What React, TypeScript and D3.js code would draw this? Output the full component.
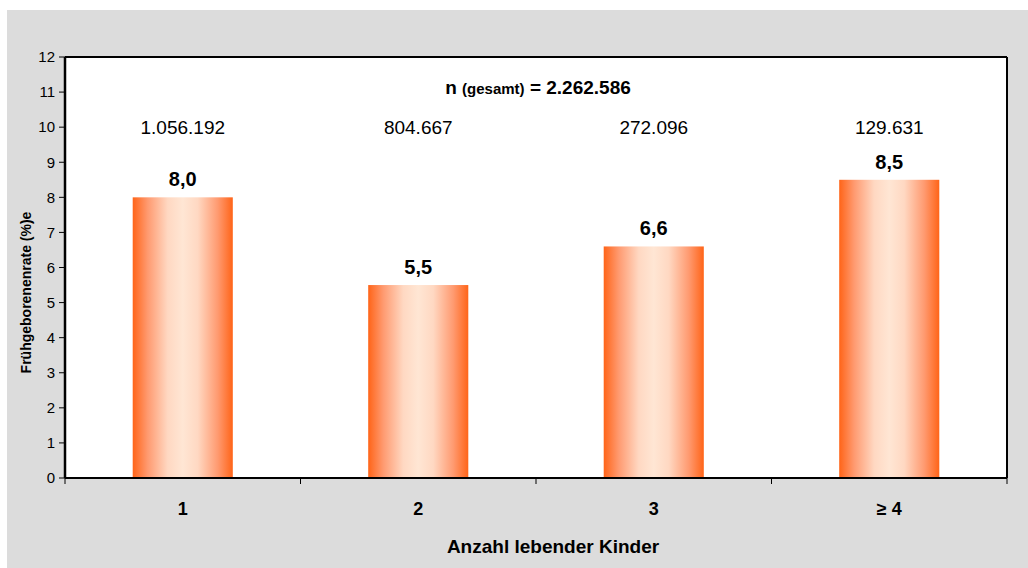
import React from 'react';
import * as d3 from 'd3';

const categories = ['1', '2', '3', '≥ 4'];
const rates = [8.0, 5.5, 6.6, 8.5];
const counts = ['1.056.192', '804.667', '272.096', '129.631'];
const yTicks = [0, 1, 2, 3, 4, 5, 6, 7, 8, 9, 10, 11, 12];

const width = 1028;
const height = 568;
const margin = { top: 57, right: 21, bottom: 90, left: 65 };

const App = () => {
  const innerW = width - margin.left - margin.right;
  const innerH = height - margin.top - margin.bottom;

  const x = d3.scaleBand().domain(categories).range([0, innerW]).paddingInner(0.575).paddingOuter(0.2875);
  const y = d3.scaleLinear().domain([0, 12]).range([innerH, 0]);

  const bandStep = innerW / categories.length;
  const fmt = (v) => v.toFixed(1).replace('.', ',');

  return (
    <svg
      width={width}
      height={height}
      style={{ position: 'absolute', left: 0, top: 0, fontFamily: 'Liberation Sans, Arial, sans-serif' }}
    >
      <defs>
        <linearGradient id="barGrad" x1="0" x2="1" y1="0" y2="0">
          <stop offset="0%" stopColor="#ff6418" />
          <stop offset="15%" stopColor="#ff9a70" />
          <stop offset="35%" stopColor="#ffd8c2" />
          <stop offset="50%" stopColor="#ffe6d4" />
          <stop offset="65%" stopColor="#ffd8c2" />
          <stop offset="85%" stopColor="#ff9a70" />
          <stop offset="100%" stopColor="#ff6418" />
        </linearGradient>
      </defs>
      <rect x={0} y={0} width={width} height={height} fill="#ffffff" />
      <rect x={7} y={10} width={width - 7} height={height - 10} fill="#dcdcdc" />
      <g transform={`translate(${margin.left},${margin.top})`}>
        <rect x={0} y={0} width={innerW} height={innerH} fill="#ffffff" />
        {rates.map((v, i) => (
          <g key={categories[i]}>
            <rect
              x={x(categories[i])}
              y={y(v)}
              width={x.bandwidth()}
              height={innerH - y(v)}
              fill="url(#barGrad)"
            />
            <text
              x={x(categories[i]) + x.bandwidth() / 2}
              y={y(v) - 11}
              textAnchor="middle"
              fontSize={20}
              fontWeight="bold"
            >
              {fmt(v)}
            </text>
            <text
              x={x(categories[i]) + x.bandwidth() / 2}
              y={y(10) + 7}
              textAnchor="middle"
              fontSize={19}
            >
              {counts[i]}
            </text>
          </g>
        ))}
        <text x={innerW / 2 + 2} y={y(11) + 2} textAnchor="middle" fontSize={19} fontWeight="bold">
          n <tspan fontSize={15}>(gesamt)</tspan> = 2.262.586
        </text>
        {/* frame */}
        <line x1={0} x2={innerW} y1={0} y2={0} stroke="#000" strokeWidth={2} />
        <line x1={innerW} x2={innerW} y1={0} y2={innerH} stroke="#000" strokeWidth={2} />
        <line x1={0} x2={innerW} y1={innerH} y2={innerH} stroke="#000" strokeWidth={2} />
        <line x1={0} x2={0} y1={0} y2={innerH} stroke="#000" strokeWidth={2.5} />
        {yTicks.map((t) => (
          <g key={t} transform={`translate(0,${y(t)})`}>
            <line x1={-6} x2={0} stroke="#000" strokeWidth={1} />
            <text x={-10} dy="0.35em" textAnchor="end" fontSize={15}>
              {t}
            </text>
          </g>
        ))}
        {d3.range(categories.length + 1).map((i) => (
          <line key={i} x1={i * bandStep} x2={i * bandStep} y1={innerH} y2={innerH + 6} stroke="#000" strokeWidth={1} />
        ))}
        {categories.map((c) => (
          <text key={c} x={x(c) + x.bandwidth() / 2} y={innerH + 37} textAnchor="middle" fontSize={18} fontWeight="bold">
            {c}
          </text>
        ))}
        <text x={innerW / 2 + 17} y={innerH + 75} textAnchor="middle" fontSize={19} fontWeight="bold">
          Anzahl lebender Kinder
        </text>
        <text
          transform={`translate(${-34},${innerH / 2 + 25}) rotate(-90)`}
          textAnchor="middle"
          fontSize={14}
          fontWeight="bold"
        >
          Frühgeborenenrate (%)e
        </text>
      </g>
    </svg>
  );
};

export default App;
